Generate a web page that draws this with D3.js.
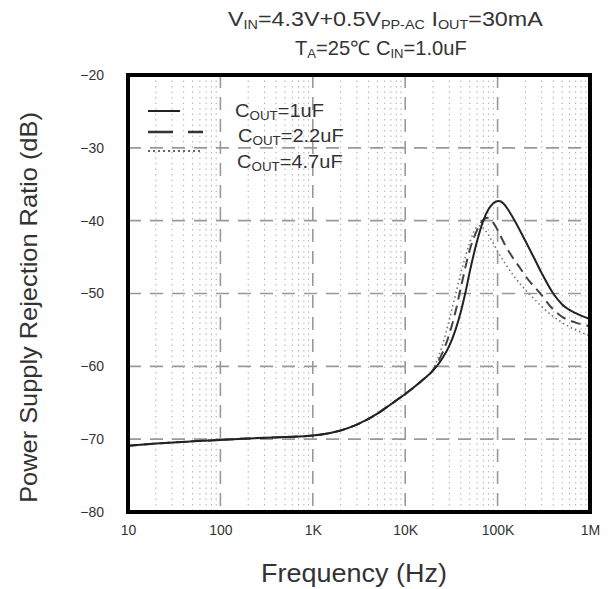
<!DOCTYPE html>
<html><head><meta charset="utf-8">
<script src="https://cdn.jsdelivr.net/npm/d3@7"></script>
<style>body{margin:0;background:#fff}svg{display:block}text{font-family:"Liberation Sans",Arial,sans-serif}</style>
</head><body>
<svg id="c" width="612" height="589"></svg>
<script>
const xTicks = [10, 100, 1000, 10000, 100000, 1000000];
const xTickLabels = ["10", "100", "1K", "10K", "100K", "1M"];
const yTicks = [-20, -30, -40, -50, -60, -70, -80];
const seriesNames = ["1uF", "2.2uF", "4.7uF"];
const freqSolid = [10,20,50,100,200,500,1000,2000,3000,5000,7000,10000,15000,20000,25000,30000,35000,40000,45000,50000,60000,70000,80000,90000,103000,115000,130000,150000,200000,250000,300000,400000,500000,700000,1000000];
const psrrSolid = [-70.9,-70.6,-70.3,-70.1,-69.9,-69.7,-69.5,-68.8,-68.0,-66.5,-65.2,-63.8,-62.0,-60.6,-59.0,-57.2,-55.0,-52.5,-49.8,-47.0,-42.8,-40.0,-38.4,-37.6,-37.3,-37.6,-38.5,-39.8,-42.8,-45.2,-47.2,-50.0,-51.5,-52.7,-53.5];
const freqDashed = [10,20,50,100,200,500,1000,2000,3000,5000,7000,10000,15000,20000,25000,30000,35000,40000,50000,60000,70000,78000,90000,104000,120000,150000,175000,200000,290000,400000,500000,700000,1000000];
const psrrDashed = [-70.9,-70.6,-70.3,-70.1,-69.9,-69.7,-69.5,-68.8,-68.0,-66.5,-65.2,-63.8,-62.0,-60.5,-58.3,-55.6,-52.5,-49.2,-44.0,-41.3,-39.9,-39.6,-40.3,-41.7,-43.3,-45.3,-46.5,-47.6,-50.0,-52.2,-53.2,-54.0,-54.5];
const freqDotted = [10,20,50,100,200,500,1000,2000,3000,5000,7000,10000,15000,20000,25000,30000,35000,40000,50000,57000,63000,70000,80000,100000,150000,200000,230000,300000,500000,700000,1000000];
const psrrDotted = [-70.9,-70.6,-70.3,-70.1,-69.9,-69.7,-69.5,-68.8,-68.0,-66.5,-65.2,-63.8,-62.0,-60.4,-57.3,-53.6,-50.2,-47.2,-43.0,-41.2,-40.7,-41.0,-42.0,-44.2,-47.6,-49.5,-50.3,-51.8,-54.0,-55.0,-55.8];

const svg = d3.select("#c");
const L = 128, R = 590, T = 75, B = 512;
const x = d3.scaleLog().domain([10, 1e6]).range([L, R]);
const y = d3.scaleLinear().domain([-80, -20]).range([B, T]);

// horizontally stretch a text element (anchored start at x0) to reach x1; returns scale
function fitH(t, x0, x1, baseY) {
  const w = t.node().getComputedTextLength();
  const s = (x1 - x0) / w;
  t.attr("x", 0).attr("y", 0).attr("text-anchor", "start")
   .attr("transform", `translate(${x0},${baseY}) scale(${s},1)`);
  return s;
}

// minor vertical grid
const minor = [];
for (let d = 10; d < 1e6; d *= 10) for (let k = 2; k <= 9; k++) minor.push(d * k);
svg.append("g").selectAll("line").data(minor).join("line")
  .attr("x1", d => x(d)).attr("x2", d => x(d)).attr("y1", T).attr("y2", B)
  .attr("stroke", "#b0b0b0").attr("stroke-width", 1).attr("stroke-dasharray", "1.5,4");

// major grids
svg.append("g").selectAll("line").data(xTicks.slice(1, -1)).join("line")
  .attr("x1", d => x(d)).attr("x2", d => x(d)).attr("y1", T).attr("y2", B)
  .attr("stroke", "#999").attr("stroke-width", 1.6).attr("stroke-dasharray", "13,9");
svg.append("g").selectAll("line").data(yTicks.slice(1, -1)).join("line")
  .attr("x1", L).attr("x2", R).attr("y1", d => y(d)).attr("y2", d => y(d))
  .attr("stroke", "#999").attr("stroke-width", 1.6).attr("stroke-dasharray", "13,9");

// curves
const line = d3.line().x(d => x(d[0])).y(d => y(d[1])).curve(d3.curveMonotoneX);
const mk = (f, v) => f.map((d, i) => [d, v[i]]);
svg.append("path").datum(mk(freqDotted, psrrDotted)).attr("d", line).attr("fill", "none")
  .attr("stroke", "#777").attr("stroke-width", 1.6).attr("stroke-dasharray", "1.5,3");
svg.append("path").datum(mk(freqDashed, psrrDashed)).attr("d", line).attr("fill", "none")
  .attr("stroke", "#444").attr("stroke-width", 2).attr("stroke-dasharray", "10,6");
svg.append("path").datum(mk(freqSolid, psrrSolid)).attr("d", line).attr("fill", "none")
  .attr("stroke", "#222").attr("stroke-width", 2);

// frame
svg.append("rect").attr("x", L).attr("y", T).attr("width", R - L).attr("height", B - T)
  .attr("fill", "none").attr("stroke", "#000").attr("stroke-width", 4);

// axes labels
const xAxis = d3.axisBottom(x).tickValues(xTicks).tickFormat((d, i) => xTickLabels[i]).tickSize(0).tickPadding(0);
const gx = svg.append("g").attr("transform", `translate(0,${B + 13})`).call(xAxis);
gx.select(".domain").remove();
gx.selectAll("text").attr("font-size", 14).attr("fill", "#333").attr("dy", "0.71em").attr("font-family", "Liberation Sans, Arial");
const yAxis = d3.axisLeft(y).tickValues(yTicks).tickSize(0).tickPadding(0);
const gy = svg.append("g").attr("transform", `translate(${L - 24},0)`).call(yAxis);
gy.select(".domain").remove();
gy.selectAll("text").attr("font-size", 14).attr("fill", "#333").attr("font-family", "Liberation Sans, Arial");

const xt = svg.append("text").attr("font-size", 26).attr("fill", "#333").text("Frequency (Hz)");
fitH(xt, 261, 447, 582);
const yt = svg.append("text").attr("font-size", 24).attr("fill", "#333").attr("text-anchor", "middle")
  .text("Power Supply Rejection Ratio (dB)");
const yw = yt.node().getComputedTextLength();
yt.attr("transform", `translate(37,${(503 + 112) / 2}) rotate(-90) scale(${(503 - 112) / yw},1)`);

// title
const t1 = svg.append("text").attr("font-size", 21).attr("fill", "#333");
t1.append("tspan").text("V");
t1.append("tspan").attr("font-size", 13).attr("dy", 3).text("IN");
t1.append("tspan").attr("dy", -3).text("=4.3V+0.5V");
t1.append("tspan").attr("font-size", 13).attr("dy", 3).text("PP-AC");
t1.append("tspan").attr("dy", -3).text(" I");
t1.append("tspan").attr("font-size", 13).attr("dy", 3).text("OUT");
t1.append("tspan").attr("dy", -3).text("=30mA");
fitH(t1, 228, 543, 26);
const t2 = svg.append("text").attr("font-size", 20).attr("fill", "#333");
t2.append("tspan").text("T");
t2.append("tspan").attr("font-size", 13).attr("dy", 3).text("A");
t2.append("tspan").attr("dy", -3).text("=25℃ C");
t2.append("tspan").attr("font-size", 13).attr("dy", 3).text("IN");
t2.append("tspan").attr("dy", -3).text("=1.0uF");
fitH(t2, 295, 467, 55);

// legend
const leg = [
  {y: 111, ty: 117, tx: 235, dash: null, w: 2, c: "#222", x2: 180},
  {y: 132, ty: 142, tx: 238, dash: "25,15", w: 2.5, c: "#333", x2: 203},
  {y: 151, ty: 168, tx: 237, dash: "2,3", w: 2, c: "#666", x2: 200}
];
let legScale = 1;
leg.forEach((l, i) => {
  svg.append("line").attr("x1", 148).attr("x2", l.x2).attr("y1", l.y).attr("y2", l.y)
    .attr("stroke", l.c).attr("stroke-width", l.w).attr("stroke-dasharray", l.dash);
  const t = svg.append("text").attr("font-size", 18).attr("fill", "#333");
  t.append("tspan").text("C");
  t.append("tspan").attr("font-size", 12).attr("dy", 3).text("OUT");
  t.append("tspan").attr("dy", -3).text("=" + seriesNames[i]);
  if (i === 0) legScale = fitH(t, l.tx, 324, l.ty);
  else t.attr("transform", `translate(${l.tx},${l.ty}) scale(${legScale},1)`);
});
</script>
</body></html>
